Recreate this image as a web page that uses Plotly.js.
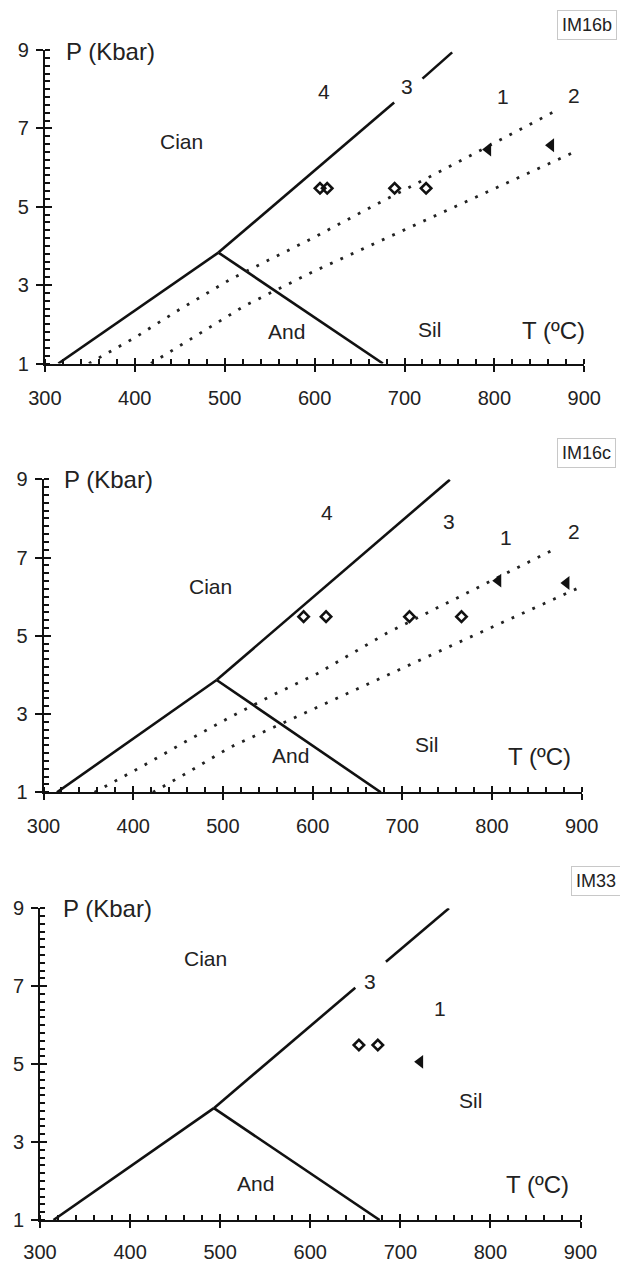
<!DOCTYPE html>
<html>
<head>
<meta charset="utf-8">
<script src="https://cdn.plot.ly/plotly-3.0.1.min.js"></script>
<style>html,body{margin:0;padding:0;background:#fff;}#chart{width:620px;height:1262px;}</style>
</head>
<body>
<div id="chart"></div>
<script>
// ---------- data (T in ºC, P in kbar) ----------
const tempTicks = [300, 400, 500, 600, 700, 800, 900];
const presTicks = [1, 3, 5, 7, 9];
const sampleNames = ["IM16b", "IM16c", "IM33"];

// Panel IM16b
const im16b_kyAndT = [315, 493];
const im16b_kyAndP = [1, 3.83];
const im16b_andSilT = [493, 676];
const im16b_andSilP = [3.83, 1];
const im16b_kySilT = [493, 688.5, null, 720, 753];
const im16b_kySilP = [3.83, 7.66, null, 8.27, 8.94];
const im16b_curve1T = [349, 400, 447, 508, 597, 671, 732, 870];
const im16b_curve1P = [1, 1.66, 2.34, 3.17, 4.19, 5.09, 5.81, 7.47];
const im16b_curve2T = [418, 463, 522, 598, 687, 776, 892];
const im16b_curve2P = [1, 1.64, 2.47, 3.34, 4.28, 5.21, 6.43];
const im16b_diamondT = [606, 614, 689, 724];
const im16b_diamondP = [5.47, 5.47, 5.47, 5.47];
const im16b_triangleT = [793, 863];
const im16b_triangleP = [6.46, 6.57];
const im16b_labelText = ["Cian", "4", "3", "1", "2", "And", "Sil", "T (ºC)"];
const im16b_labelT = [452, 610, 703, 810, 889, 569, 728, 866];
const im16b_labelP = [6.66, 7.93, 8.06, 7.81, 7.85, 1.81, 1.88, 1.85];

// Panel IM16c
const im16c_kyAndT = [315, 493];
const im16c_kyAndP = [1, 3.87];
const im16c_andSilT = [493, 676];
const im16c_andSilP = [3.87, 1];
const im16c_kySilT = [493, 753];
const im16c_kySilP = [3.87, 8.99];
const im16c_curve1T = [357, 409, 458, 508, 556, 605, 683, 768, 831, 870];
const im16c_curve1P = [1, 1.65, 2.29, 2.92, 3.49, 4.03, 5.07, 6.05, 6.77, 7.22];
const im16c_curve2T = [422, 458, 508, 558, 621, 684, 773, 851, 900];
const im16c_curve2P = [1, 1.47, 2.15, 2.68, 3.33, 4.0, 4.94, 5.75, 6.26];
const im16c_diamondT = [590, 615, 708, 766];
const im16c_diamondP = [5.49, 5.49, 5.49, 5.49];
const im16c_triangleT = [807, 883];
const im16c_triangleP = [6.41, 6.35];
const im16c_labelText = ["Cian", "4", "3", "1", "2", "And", "Sil", "T (ºC)"];
const im16c_labelT = [486, 616, 752, 816, 891, 575, 727, 853];
const im16c_labelP = [6.26, 8.14, 7.92, 7.5, 7.66, 1.93, 2.23, 1.91];

// Panel IM33
const im33_kyAndT = [315, 493];
const im33_kyAndP = [1, 3.87];
const im33_andSilT = [493, 677];
const im33_andSilP = [3.87, 1];
const im33_kySilT = [493, 650, null, 684, 754];
const im33_kySilP = [3.87, 6.96, null, 7.63, 9.0];
const im33_diamondT = [654, 675];
const im33_diamondP = [5.49, 5.49];
const im33_triangleT = [722];
const im33_triangleP = [5.06];
const im33_labelText = ["Cian", "3", "1", "Sil", "And", "T (ºC)"];
const im33_labelT = [484, 666, 744, 778, 539, 852];
const im33_labelP = [7.72, 7.13, 6.43, 4.08, 1.94, 1.9];

const axisTitleT = [321, 321, 323];
const axisTitleP = [8.95, 9.0, 9.0];

// ---------- styling / layout ----------
const FONT = "Liberation Sans, Arial, sans-serif";
const INK = "#111";
const TXT = "#222";
const W = 620, H = 1262;
// plot-area boxes in pixels: [left, right, top(P=9), bottom(P=1)]
const boxes = [
  [44.9, 584.3, 50, 363.5],
  [43.5, 581.7, 479.3, 792.3],
  [40.0, 580.5, 908.3, 1220]
];
const xLabelStandoff = [9, 9, 7];
const tagPos = [[557, 25], [557, 453], [571, 881]];

const panels = [
  {kyAndT: im16b_kyAndT, kyAndP: im16b_kyAndP, andSilT: im16b_andSilT, andSilP: im16b_andSilP,
   kySilT: im16b_kySilT, kySilP: im16b_kySilP,
   curves: [[im16b_curve1T, im16b_curve1P], [im16b_curve2T, im16b_curve2P]],
   dT: im16b_diamondT, dP: im16b_diamondP, tT: im16b_triangleT, tP: im16b_triangleP,
   lText: im16b_labelText, lT: im16b_labelT, lP: im16b_labelP},
  {kyAndT: im16c_kyAndT, kyAndP: im16c_kyAndP, andSilT: im16c_andSilT, andSilP: im16c_andSilP,
   kySilT: im16c_kySilT, kySilP: im16c_kySilP,
   curves: [[im16c_curve1T, im16c_curve1P], [im16c_curve2T, im16c_curve2P]],
   dT: im16c_diamondT, dP: im16c_diamondP, tT: im16c_triangleT, tP: im16c_triangleP,
   lText: im16c_labelText, lT: im16c_labelT, lP: im16c_labelP},
  {kyAndT: im33_kyAndT, kyAndP: im33_kyAndP, andSilT: im33_andSilT, andSilP: im33_andSilP,
   kySilT: im33_kySilT, kySilP: im33_kySilP,
   curves: [],
   dT: im33_diamondT, dP: im33_diamondP, tT: im33_triangleT, tP: im33_triangleP,
   lText: im33_labelText, lT: im33_labelT, lP: im33_labelP}
];

const tRange = [tempTicks[0], tempTicks[tempTicks.length - 1]];
const pRange = [presTicks[0], presTicks[presTicks.length - 1]];
const tStep = tempTicks[1] - tempTicks[0];
const pStep = presTicks[1] - presTicks[0];

const traces = [];
const annotations = [];
const layout = {
  width: W, height: H,
  margin: {l: 0, r: 0, t: 0, b: 0, pad: 0},
  paper_bgcolor: "#fff", plot_bgcolor: "rgba(0,0,0,0)",
  showlegend: false,
  font: {family: FONT, color: TXT}
};

panels.forEach((pn, i) => {
  const n = i + 1;
  const xa = "x" + n, ya = "y" + n;
  const ox = "x" + (n + 3), oy = "y" + (n + 3);
  const b = boxes[i];
  const xdom = [b[0] / W, b[1] / W];
  const ydom = [1 - b[3] / H, 1 - b[2] / H];
  const sfx = n === 1 ? "" : String(n);

  layout["xaxis" + sfx] = {
    domain: xdom, anchor: ya, range: tRange, autorange: false,
    showgrid: false, zeroline: false, showline: true, linecolor: INK, linewidth: 2,
    tickmode: "linear", tick0: tRange[0], dtick: tStep,
    ticks: "outside", ticklen: 6, tickwidth: 2, tickcolor: INK,
    tickfont: {family: FONT, size: 20, color: TXT}, ticklabelstandoff: xLabelStandoff[i],
    minor: {ticks: "inside", tickmode: "linear", tick0: tRange[0], dtick: tStep / 5, ticklen: 5, tickwidth: 2, tickcolor: INK, showgrid: false},
    automargin: false, fixedrange: true
  };
  layout["yaxis" + sfx] = {
    domain: ydom, anchor: xa, range: pRange, autorange: false,
    showgrid: false, zeroline: false, showline: true, linecolor: INK, linewidth: 2,
    tickmode: "linear", tick0: pRange[0], dtick: pStep,
    ticks: "outside", ticklen: 7, tickwidth: 2, tickcolor: INK,
    tickfont: {family: FONT, size: 20, color: TXT}, ticklabelstandoff: 3,
    minor: {ticks: "inside", tickmode: "linear", tick0: pRange[0], dtick: pStep / 10, ticklen: 5, tickwidth: 2, tickcolor: INK, showgrid: false},
    automargin: false, fixedrange: true
  };
  // overlay axes: inner half of the crossing major ticks
  layout["xaxis" + (n + 3)] = {
    overlaying: xa, anchor: ya, range: tRange, autorange: false,
    showgrid: false, zeroline: false, showline: false, showticklabels: false,
    tickmode: "linear", tick0: tRange[0], dtick: tStep, ticks: "inside", ticklen: 6, tickwidth: 2, tickcolor: INK,
    automargin: false, fixedrange: true
  };
  layout["yaxis" + (n + 3)] = {
    overlaying: ya, anchor: xa, range: pRange, autorange: false,
    showgrid: false, zeroline: false, showline: false, showticklabels: false,
    tickmode: "linear", tick0: pRange[0], dtick: pStep, ticks: "inside", ticklen: 7, tickwidth: 2, tickcolor: INK,
    automargin: false, fixedrange: true
  };
  traces.push({x: [null], y: [null], xaxis: ox, yaxis: ya, type: "scatter", mode: "markers", hoverinfo: "skip"});
  traces.push({x: [null], y: [null], xaxis: xa, yaxis: oy, type: "scatter", mode: "markers", hoverinfo: "skip"});

  const solid = {color: INK, width: 2.6};
  traces.push({x: pn.kyAndT, y: pn.kyAndP, xaxis: xa, yaxis: ya, type: "scatter", mode: "lines", line: solid, hoverinfo: "skip"});
  traces.push({x: pn.andSilT, y: pn.andSilP, xaxis: xa, yaxis: ya, type: "scatter", mode: "lines", line: solid, hoverinfo: "skip"});
  traces.push({x: pn.kySilT, y: pn.kySilP, xaxis: xa, yaxis: ya, type: "scatter", mode: "lines", line: solid, connectgaps: false, hoverinfo: "skip"});
  pn.curves.forEach(c => {
    traces.push({x: c[0], y: c[1], xaxis: xa, yaxis: ya, type: "scatter", mode: "lines",
      line: {color: "#222", width: 2.8, dash: "2.8px,8.6px"}, hoverinfo: "skip"});
  });
  traces.push({x: pn.dT, y: pn.dP, xaxis: xa, yaxis: ya, type: "scatter", mode: "markers",
    marker: {symbol: "diamond-open", size: 8, color: INK, line: {width: 2.6, color: INK}}, hoverinfo: "skip"});
  traces.push({x: pn.tT, y: pn.tP, xaxis: xa, yaxis: ya, type: "scatter", mode: "markers",
    marker: {symbol: "triangle-left", size: 12, color: INK, line: {width: 0}}, hoverinfo: "skip"});

  // in-plot labels
  pn.lText.forEach((t, k) => {
    const isAxis = t.indexOf("T (") === 0;
    annotations.push({xref: xa, yref: ya, x: pn.lT[k], y: pn.lP[k], text: t, showarrow: false,
      xanchor: "center", yanchor: "middle",
      font: {family: FONT, size: isAxis ? 24 : 21, color: TXT}});
  });
  annotations.push({xref: xa, yref: ya, x: axisTitleT[i], y: axisTitleP[i], text: "P (Kbar)", showarrow: false,
    xanchor: "left", yanchor: "middle", font: {family: FONT, size: 24, color: TXT}});
  // sample tag
  annotations.push({xref: "paper", yref: "paper", x: tagPos[i][0] / W, y: 1 - tagPos[i][1] / H,
    text: sampleNames[i], showarrow: false, xanchor: "left", yanchor: "middle",
    bordercolor: "#c8c8c8", borderwidth: 1, borderpad: 4,
    font: {family: FONT, size: 18, color: TXT}});
});

layout.annotations = annotations;
Plotly.newPlot("chart", traces, layout, {staticPlot: true, displayModeBar: false});
</script>
</body>
</html>
